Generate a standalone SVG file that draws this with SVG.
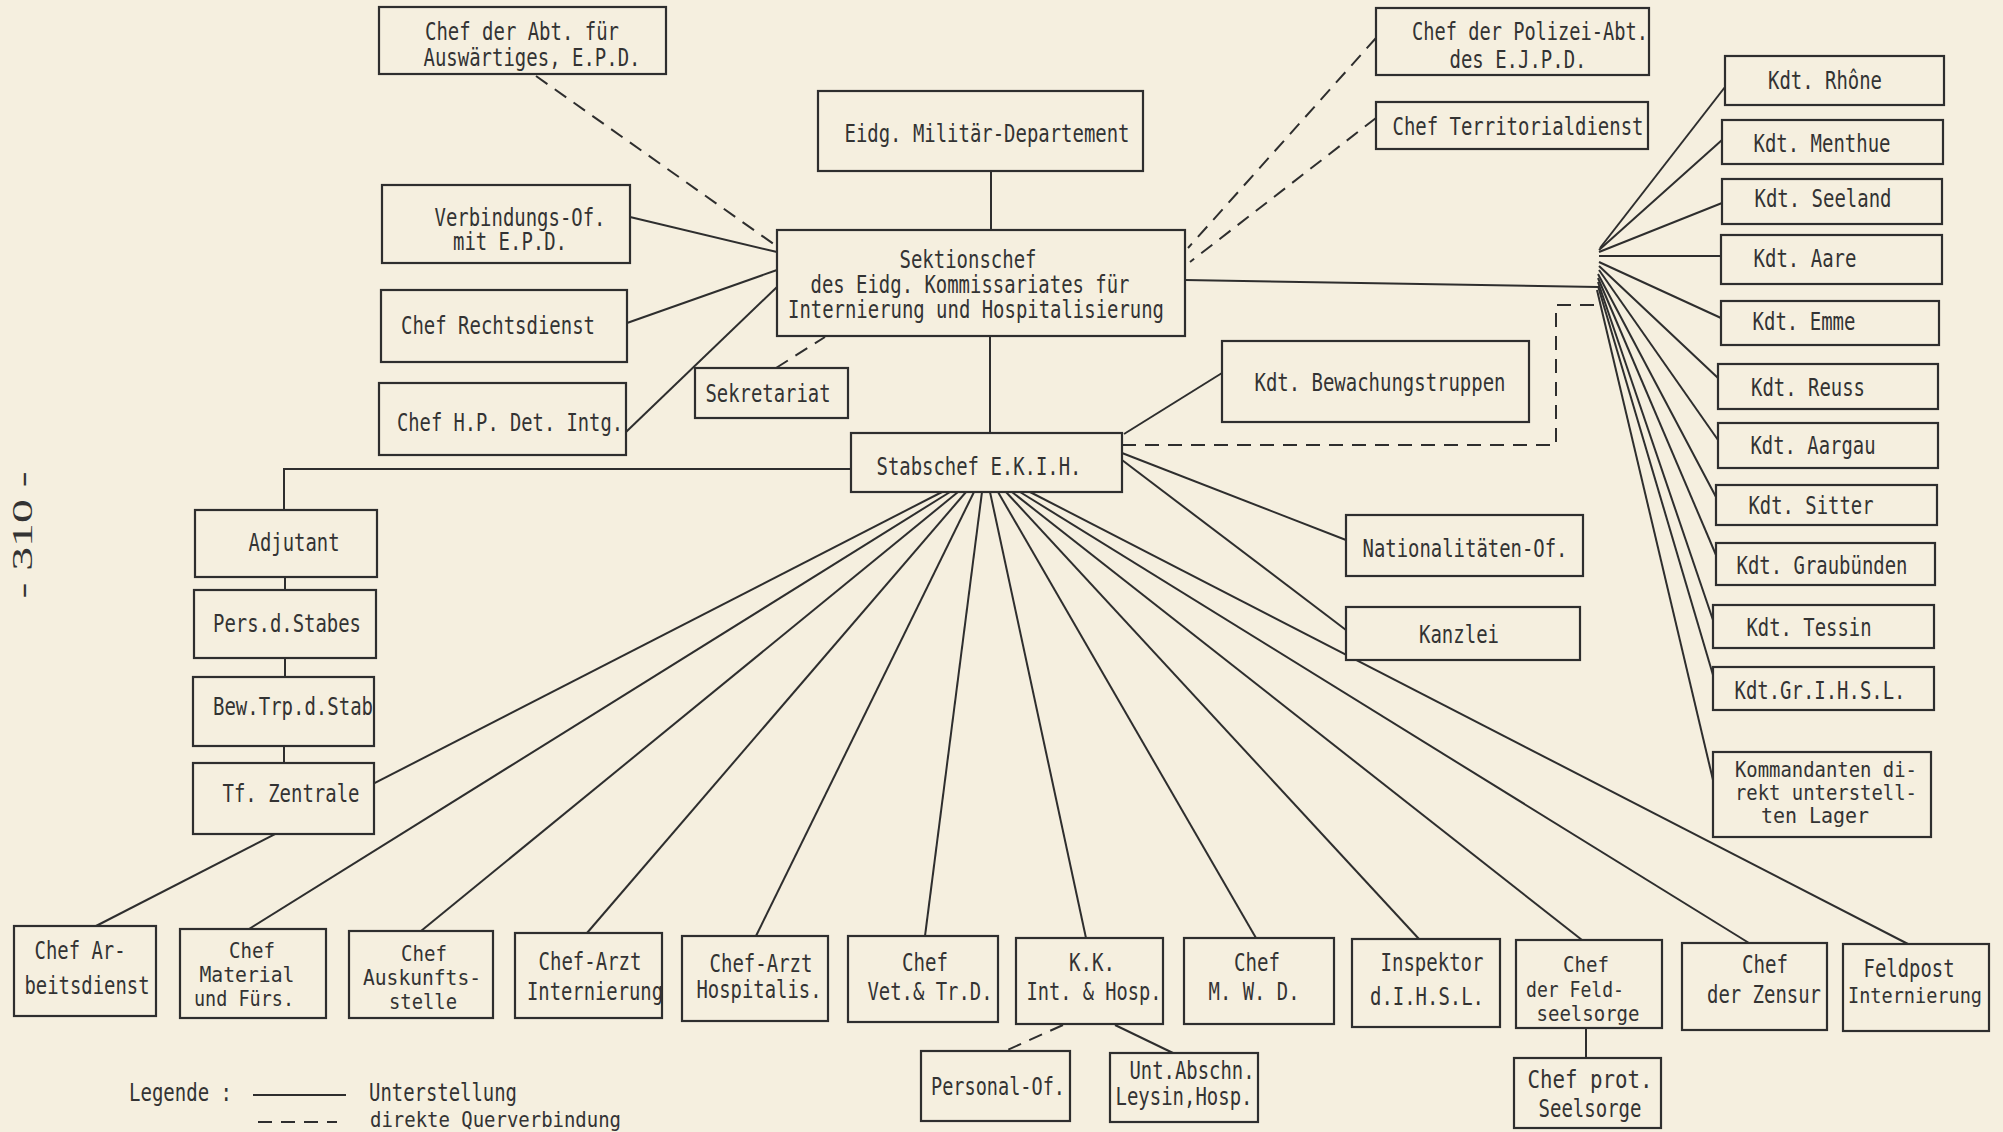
<svg xmlns="http://www.w3.org/2000/svg" width="2003" height="1132" viewBox="0 0 2003 1132">
<style>
.bx{fill:#f5efdf;stroke:#2e2e2e;stroke-width:2.2}
.t{font-family:"DejaVu Sans Mono","Liberation Mono",monospace;font-size:24px;fill:#333;text-anchor:middle}
.ts{font-family:"DejaVu Sans Mono","Liberation Mono",monospace;font-size:24px;fill:#333;text-anchor:start}
.sm{font-size:21px}
.c{stroke:#2e2e2e;stroke-width:2;fill:none}
.d{stroke-dasharray:14 9}
</style>
<rect x="0" y="0" width="2003" height="1132" fill="#f5efdf"/>
<g id="connectors">
<path class="c" d="M991 171V230"/>
<path class="c" d="M630 217L777 252"/>
<path class="c" d="M627 323L777 270"/>
<path class="c" d="M626 432L777 287"/>
<path class="c" d="M1185 280L1598 287"/>
<path class="c" d="M990 336V433"/>
<path class="c" d="M1124 434L1222 373"/>
<path class="c" d="M851 469H284V510"/>
<path class="c" d="M285 577V590M285 658V677M284 746V763"/>
<path class="c" d="M1122 453L1346 540"/>
<path class="c" d="M1122 460L1346 630"/>
<path class="c" d="M942 492L96 926"/>
<path class="c" d="M950 492L249 929"/>
<path class="c" d="M958 492L421 931"/>
<path class="c" d="M966 492L587 933"/>
<path class="c" d="M974 492L756 936"/>
<path class="c" d="M982 492L925 936"/>
<path class="c" d="M990 492L1086 938"/>
<path class="c" d="M998 492L1256 938"/>
<path class="c" d="M1006 492L1419 939"/>
<path class="c" d="M1012 492L1582 940"/>
<path class="c" d="M1020 492L1749 943"/>
<path class="c" d="M1030 492L1908 944"/>
<path class="c" d="M1600 248L1725 87"/>
<path class="c" d="M1599 250L1722 140"/>
<path class="c" d="M1599 252L1722 203"/>
<path class="c" d="M1599 256L1721 256"/>
<path class="c" d="M1599 262L1721 318"/>
<path class="c" d="M1599 266L1718 378"/>
<path class="c" d="M1599 270L1718 440"/>
<path class="c" d="M1598 274L1716 497"/>
<path class="c" d="M1598 278L1716 555"/>
<path class="c" d="M1598 282L1713 620"/>
<path class="c" d="M1598 286L1713 675"/>
<path class="c" d="M1597 290L1713 780"/>
<path class="c" d="M1115 1025L1173 1053"/>
<path class="c" d="M1586 1028V1058"/>
<path class="c d" d="M536 76L775 245"/>
<path class="c d" d="M1376 38L1188 248"/>
<path class="c d" d="M1376 118L1190 262"/>
<path class="c d" d="M776 368L825 337"/>
<path class="c d" d="M1122 445H1556V305H1598"/>
<path class="c d" d="M1063 1025L1003 1052"/>
</g>
<g id="abt"><rect class="bx" x="379" y="7" width="287" height="67"/><text class="t" x="522" y="40" textLength="194" lengthAdjust="spacingAndGlyphs">Chef der Abt. für</text><text class="t" x="532" y="66" textLength="217" lengthAdjust="spacingAndGlyphs">Auswärtiges, E.P.D.</text></g>
<g id="emd"><rect class="bx" x="818" y="91" width="325" height="80"/><text class="t" x="987" y="142" textLength="285" lengthAdjust="spacingAndGlyphs">Eidg. Militär-Departement</text></g>
<g id="verbindung"><rect class="bx" x="382" y="185" width="248" height="78"/><text class="t" x="520" y="226" textLength="171" lengthAdjust="spacingAndGlyphs">Verbindungs-Of.</text><text class="t" x="510" y="250" textLength="114" lengthAdjust="spacingAndGlyphs">mit E.P.D.</text></g>
<g id="rechtsdienst"><rect class="bx" x="381" y="290" width="246" height="72"/><text class="t" x="498" y="334" textLength="194" lengthAdjust="spacingAndGlyphs">Chef Rechtsdienst</text></g>
<g id="hp"><rect class="bx" x="379" y="383" width="247" height="72"/><text class="t" x="510" y="431" textLength="226" lengthAdjust="spacingAndGlyphs">Chef H.P. Det. Intg.</text></g>
<g id="sektionschef"><rect class="bx" x="777" y="230" width="408" height="106"/><text class="t" x="968" y="268" textLength="137" lengthAdjust="spacingAndGlyphs">Sektionschef</text><text class="t" x="970" y="293" textLength="319" lengthAdjust="spacingAndGlyphs">des Eidg. Kommissariates für</text><text class="t" x="976" y="318" textLength="376" lengthAdjust="spacingAndGlyphs">Internierung und Hospitalisierung</text></g>
<g id="sekretariat"><rect class="bx" x="695" y="368" width="153" height="50"/><text class="t" x="768" y="402" textLength="125" lengthAdjust="spacingAndGlyphs">Sekretariat</text></g>
<g id="polizei"><rect class="bx" x="1376" y="8" width="273" height="67"/><text class="t" x="1530" y="40" textLength="236" lengthAdjust="spacingAndGlyphs">Chef der Polizei-Abt.</text><text class="t" x="1518" y="68" textLength="137" lengthAdjust="spacingAndGlyphs">des E.J.P.D.</text></g>
<g id="territorial"><rect class="bx" x="1376" y="102" width="272" height="47"/><text class="t" x="1518" y="135" textLength="251" lengthAdjust="spacingAndGlyphs">Chef Territorialdienst</text></g>
<g id="bewachung"><rect class="bx" x="1222" y="341" width="307" height="81"/><text class="t" x="1380" y="391" textLength="251" lengthAdjust="spacingAndGlyphs">Kdt. Bewachungstruppen</text></g>
<g id="stabschef"><rect class="bx" x="851" y="433" width="271" height="59"/><text class="t" x="979" y="475" textLength="205" lengthAdjust="spacingAndGlyphs">Stabschef E.K.I.H.</text></g>
<g id="adjutant"><rect class="bx" x="195" y="510" width="182" height="67"/><text class="t" x="294" y="551" textLength="91" lengthAdjust="spacingAndGlyphs">Adjutant</text></g>
<g id="pers"><rect class="bx" x="194" y="590" width="182" height="68"/><text class="t" x="287" y="632" textLength="148" lengthAdjust="spacingAndGlyphs">Pers.d.Stabes</text></g>
<g id="bewtrp"><rect class="bx" x="193" y="677" width="181" height="69"/><text class="t" x="293" y="715" textLength="160" lengthAdjust="spacingAndGlyphs">Bew.Trp.d.Stab</text></g>
<g id="tf"><rect class="bx" x="193" y="763" width="181" height="71"/><text class="t" x="291" y="802" textLength="137" lengthAdjust="spacingAndGlyphs">Tf. Zentrale</text></g>
<g id="nationalitaeten"><rect class="bx" x="1346" y="515" width="237" height="61"/><text class="t" x="1465" y="557" textLength="205" lengthAdjust="spacingAndGlyphs">Nationalitäten-Of.</text></g>
<g id="kanzlei"><rect class="bx" x="1346" y="607" width="234" height="53"/><text class="t" x="1459" y="643" textLength="80" lengthAdjust="spacingAndGlyphs">Kanzlei</text></g>
<g id="rhone"><rect class="bx" x="1725" y="56" width="219" height="49"/><text class="t" x="1825" y="89" textLength="114" lengthAdjust="spacingAndGlyphs">Kdt. Rhône</text></g>
<g id="menthue"><rect class="bx" x="1722" y="120" width="221" height="44"/><text class="t" x="1822" y="152" textLength="137" lengthAdjust="spacingAndGlyphs">Kdt. Menthue</text></g>
<g id="seeland"><rect class="bx" x="1722" y="179" width="220" height="45"/><text class="t" x="1823" y="207" textLength="137" lengthAdjust="spacingAndGlyphs">Kdt. Seeland</text></g>
<g id="aare"><rect class="bx" x="1721" y="235" width="221" height="49"/><text class="t" x="1805" y="267" textLength="103" lengthAdjust="spacingAndGlyphs">Kdt. Aare</text></g>
<g id="emme"><rect class="bx" x="1721" y="301" width="218" height="44"/><text class="t" x="1804" y="330" textLength="103" lengthAdjust="spacingAndGlyphs">Kdt. Emme</text></g>
<g id="reuss"><rect class="bx" x="1718" y="364" width="220" height="45"/><text class="t" x="1808" y="396" textLength="114" lengthAdjust="spacingAndGlyphs">Kdt. Reuss</text></g>
<g id="aargau"><rect class="bx" x="1718" y="423" width="220" height="45"/><text class="t" x="1813" y="454" textLength="125" lengthAdjust="spacingAndGlyphs">Kdt. Aargau</text></g>
<g id="sitter"><rect class="bx" x="1716" y="485" width="221" height="40"/><text class="t" x="1811" y="514" textLength="125" lengthAdjust="spacingAndGlyphs">Kdt. Sitter</text></g>
<g id="graubuenden"><rect class="bx" x="1716" y="543" width="219" height="42"/><text class="t" x="1822" y="574" textLength="171" lengthAdjust="spacingAndGlyphs">Kdt. Graubünden</text></g>
<g id="tessin"><rect class="bx" x="1713" y="605" width="221" height="43"/><text class="t" x="1809" y="636" textLength="125" lengthAdjust="spacingAndGlyphs">Kdt. Tessin</text></g>
<g id="grihsl"><rect class="bx" x="1713" y="667" width="221" height="43"/><text class="t" x="1820" y="699" textLength="171" lengthAdjust="spacingAndGlyphs">Kdt.Gr.I.H.S.L.</text></g>
<g id="kommandanten"><rect class="bx" x="1713" y="752" width="218" height="85"/><text class="t sm" x="1826" y="777" textLength="182" lengthAdjust="spacingAndGlyphs">Kommandanten di-</text><text class="t sm" x="1826" y="800" textLength="182" lengthAdjust="spacingAndGlyphs">rekt unterstell-</text><text class="t sm" x="1815" y="823" textLength="108" lengthAdjust="spacingAndGlyphs">ten Lager</text></g>
<g id="arbeitsdienst"><rect class="bx" x="14" y="926" width="142" height="90"/><text class="t" x="80" y="959" textLength="91" lengthAdjust="spacingAndGlyphs">Chef Ar-</text><text class="t" x="87" y="994" textLength="125" lengthAdjust="spacingAndGlyphs">beitsdienst</text></g>
<g id="material"><rect class="bx" x="180" y="929" width="146" height="89"/><text class="t sm" x="252" y="958" textLength="46" lengthAdjust="spacingAndGlyphs">Chef</text><text class="t sm" x="247" y="982" textLength="95" lengthAdjust="spacingAndGlyphs">Material</text><text class="t sm" x="244" y="1006" textLength="100" lengthAdjust="spacingAndGlyphs">und Fürs.</text></g>
<g id="auskunft"><rect class="bx" x="349" y="931" width="144" height="87"/><text class="t sm" x="424" y="961" textLength="46" lengthAdjust="spacingAndGlyphs">Chef</text><text class="t sm" x="422" y="985" textLength="118" lengthAdjust="spacingAndGlyphs">Auskunfts-</text><text class="t sm" x="423" y="1009" textLength="68" lengthAdjust="spacingAndGlyphs">stelle</text></g>
<g id="arzt-int"><rect class="bx" x="515" y="933" width="147" height="85"/><text class="t" x="590" y="970" textLength="103" lengthAdjust="spacingAndGlyphs">Chef-Arzt</text><text class="t" x="595" y="1000" textLength="136" lengthAdjust="spacingAndGlyphs">Internierung</text></g>
<g id="arzt-hosp"><rect class="bx" x="682" y="936" width="146" height="85"/><text class="t" x="761" y="972" textLength="103" lengthAdjust="spacingAndGlyphs">Chef-Arzt</text><text class="t" x="759" y="998" textLength="125" lengthAdjust="spacingAndGlyphs">Hospitalis.</text></g>
<g id="vet"><rect class="bx" x="848" y="936" width="150" height="86"/><text class="t" x="925" y="971" textLength="46" lengthAdjust="spacingAndGlyphs">Chef</text><text class="t" x="930" y="1000" textLength="125" lengthAdjust="spacingAndGlyphs">Vet.&amp; Tr.D.</text></g>
<g id="kk"><rect class="bx" x="1016" y="938" width="147" height="86"/><text class="t" x="1092" y="971" textLength="46" lengthAdjust="spacingAndGlyphs">K.K.</text><text class="t" x="1094" y="1000" textLength="135" lengthAdjust="spacingAndGlyphs">Int. &amp; Hosp.</text></g>
<g id="mwd"><rect class="bx" x="1184" y="938" width="150" height="86"/><text class="t" x="1257" y="971" textLength="46" lengthAdjust="spacingAndGlyphs">Chef</text><text class="t" x="1254" y="1000" textLength="91" lengthAdjust="spacingAndGlyphs">M. W. D.</text></g>
<g id="inspektor"><rect class="bx" x="1352" y="939" width="148" height="88"/><text class="t" x="1432" y="971" textLength="103" lengthAdjust="spacingAndGlyphs">Inspektor</text><text class="t" x="1427" y="1005" textLength="114" lengthAdjust="spacingAndGlyphs">d.I.H.S.L.</text></g>
<g id="feldseelsorge"><rect class="bx" x="1516" y="940" width="146" height="88"/><text class="t sm" x="1586" y="972" textLength="46" lengthAdjust="spacingAndGlyphs">Chef</text><text class="t sm" x="1575" y="997" textLength="98" lengthAdjust="spacingAndGlyphs">der Feld-</text><text class="t sm" x="1588" y="1021" textLength="103" lengthAdjust="spacingAndGlyphs">seelsorge</text></g>
<g id="zensur"><rect class="bx" x="1682" y="943" width="145" height="87"/><text class="t" x="1765" y="973" textLength="46" lengthAdjust="spacingAndGlyphs">Chef</text><text class="t" x="1764" y="1003" textLength="114" lengthAdjust="spacingAndGlyphs">der Zensur</text></g>
<g id="feldpost"><rect class="bx" x="1843" y="944" width="146" height="87"/><text class="t" x="1909" y="977" textLength="91" lengthAdjust="spacingAndGlyphs">Feldpost</text><text class="t sm" x="1915" y="1003" textLength="134" lengthAdjust="spacingAndGlyphs">Internierung</text></g>
<g id="personal"><rect class="bx" x="921" y="1051" width="149" height="70"/><text class="t" x="998" y="1095" textLength="134" lengthAdjust="spacingAndGlyphs">Personal-Of.</text></g>
<g id="unt-abschn"><rect class="bx" x="1110" y="1053" width="148" height="69"/><text class="t" x="1192" y="1079" textLength="125" lengthAdjust="spacingAndGlyphs">Unt.Abschn.</text><text class="t" x="1184" y="1105" textLength="137" lengthAdjust="spacingAndGlyphs">Leysin,Hosp.</text></g>
<g id="prot"><rect class="bx" x="1514" y="1058" width="147" height="70"/><text class="t" x="1590" y="1088" textLength="125" lengthAdjust="spacingAndGlyphs">Chef  prot.</text><text class="t" x="1590" y="1117" textLength="103" lengthAdjust="spacingAndGlyphs">Seelsorge</text></g>
<g id="legend">
<text class="ts" x="129" y="1101" textLength="103" lengthAdjust="spacingAndGlyphs">Legende :</text>
<path class="c" d="M253 1095H346"/>
<text class="ts" x="369" y="1101" textLength="148" lengthAdjust="spacingAndGlyphs">Unterstellung</text>
<path class="c d" d="M258 1122H337"/>
<text class="ts sm" x="370" y="1127" textLength="251" lengthAdjust="spacingAndGlyphs">direkte Querverbindung</text>
</g>
<text x="0" y="0" transform="translate(32 535) rotate(-90)" text-anchor="middle" font-family="'Liberation Serif',serif" font-size="30" fill="#333" textLength="127" lengthAdjust="spacingAndGlyphs">- 310 -</text>
</svg>
